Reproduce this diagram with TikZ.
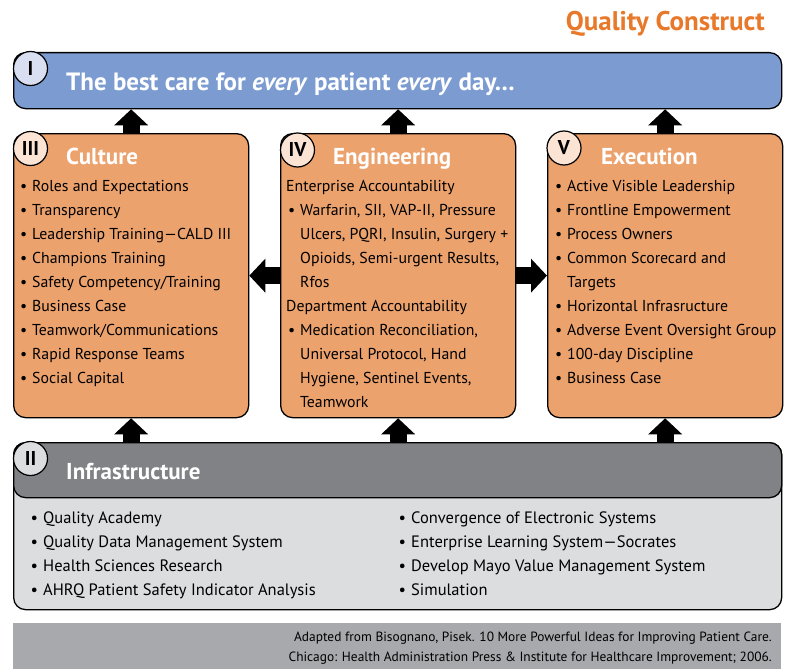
\documentclass[tikz,border=0pt]{standalone}
\usepackage{fontspec}
\setmainfont{PT Sans}
\usetikzlibrary{arrows.meta}
\definecolor{topblue}{HTML}{7B9BD1}
\definecolor{badgeblue}{HTML}{D9DEF0}
\definecolor{boxorange}{HTML}{ECA26D}
\definecolor{badgeorange}{HTML}{FBE4D4}
\definecolor{darkgray}{HTML}{808285}
\definecolor{lightgray}{HTML}{DCDDDF}
\definecolor{footgray}{HTML}{A7A9AC}
\definecolor{titleorange}{HTML}{E8782A}
\tikzset{
  panel/.style={draw=black, line width=1.3pt, rounded corners=12pt, inner sep=0pt, anchor=north west},
  badge/.style={circle, draw=black, line width=1.2pt, minimum size=34pt, inner sep=0pt, font=\fontsize{20}{20}\selectfont\bfseries},
  heading/.style={text=white, font=\fontsize{23}{23}\selectfont\bfseries, anchor=base west, inner sep=0pt},
  item/.style={font=\fontsize{15.8}{20}\selectfont, anchor=base west, inner sep=0pt},
  infitem/.style={font=\fontsize{16.5}{20}\selectfont, anchor=base west, inner sep=0pt},
  foottext/.style={anchor=base east, inner sep=0pt, font=\fontsize{13.4}{14}\selectfont},
  bigarrow/.style={line width=17pt, -{Triangle[width=33pt,length=16pt]}},
}
\newcommand{\bul}{\llap{\textbullet\hspace{5pt}}}
\begin{document}
\begin{tikzpicture}[x=1pt,y=-1pt]
\useasboundingbox (0,0) rectangle (792,669);

% title
\node[anchor=base east, inner sep=0pt, text=titleorange, font=\fontsize{27}{27}\selectfont\bfseries] (title) at (765,31) {Quality Construct};

% top box
\node[panel, fill=topblue, minimum width=768pt, minimum height=56pt] (top) at (13,52) {};
\node[badge, fill=badgeblue] (bI) at (30.5,68.5) {I};
\node[heading, font=\fontsize{25}{25}\selectfont\bfseries] (toptext) at (66,90) {The best care for \textit{every} patient \textit{every} day…};

% three boxes
\node[panel, fill=boxorange, minimum width=235pt, minimum height=284pt] (cult) at (13,133) {};
\node[panel, fill=boxorange, minimum width=235pt, minimum height=284pt] (eng) at (280,133) {};
\node[panel, fill=boxorange, minimum width=235pt, minimum height=284pt] (exec) at (547,133) {};

\node[badge, fill=badgeorange] (bIII) at (30.5,148.5) {III};
\node[badge, fill=badgeorange] (bIV) at (297.5,150) {IV};
\node[badge, fill=badgeorange] (bV) at (564,148) {V};

\node[heading] (hcult) at (66,164) {Culture};
\node[heading] (heng) at (333,164) {Engineering};
\node[heading] (hexec) at (601,164) {Execution};

\foreach \t [count=\i] in {Roles and Expectations, Transparency, Leadership Training—CALD III, Champions Training, Safety Competency/Training, Business Case, Teamwork/Communications, Rapid Response Teams, Social Capital}
  \node[item] (c\i) at (32,167+24*\i) {\bul\t};

\node[item] (e1) at (286,191) {Enterprise Accountability};
\node[item] (e2) at (300,215) {\bul Warfarin, SII, VAP-II, Pressure};
\node[item] (e3) at (300,239) {Ulcers, PQRI, Insulin, Surgery +};
\node[item] (e4) at (300,263) {Opioids, Semi-urgent Results,};
\node[item] (e5) at (300,287) {Rfos};
\node[item] (e6) at (286,311) {Department Accountability};
\node[item] (e7) at (300,335) {\bul Medication Reconciliation,};
\node[item] (e8) at (300,359) {Universal Protocol, Hand};
\node[item] (e9) at (300,383) {Hygiene, Sentinel Events,};
\node[item] (e10) at (300,407) {Teamwork};

\node[item] (x1) at (567,191) {\bul Active Visible Leadership};
\node[item] (x2) at (567,215) {\bul Frontline Empowerment};
\node[item] (x3) at (567,239) {\bul Process Owners};
\node[item] (x4) at (567,263) {\bul Common Scorecard and};
\node[item] (x5) at (567,287) {Targets};
\node[item] (x6) at (567,311) {\bul Horizontal Infrasructure};
\node[item] (x7) at (567,335) {\bul Adverse Event Oversight Group};
\node[item] (x8) at (567,359) {\bul 100-day Discipline};
\node[item] (x9) at (567,383) {\bul Business Case};

% infrastructure
\node[panel, fill=lightgray, minimum width=768pt, minimum height=167pt] (infra) at (13,442) {};
\node[panel, fill=darkgray, minimum width=768pt, minimum height=55pt] (infrahead) at (13,442) {};
\node[badge, fill=lightgray] (bII) at (30.5,458.5) {II};
\node[heading] (hinfra) at (66,479) {Infrastructure};

\foreach \t [count=\i] in {Quality Academy, Quality Data Management System, Health Sciences Research, AHRQ Patient Safety Indicator Analysis}
  \node[infitem] (l\i) at (43,499+24*\i) {\bul\t};
\foreach \t [count=\i] in {Convergence of Electronic Systems, Enterprise Learning System—Socrates, Develop Mayo Value Management System, Simulation}
  \node[infitem] (r\i) at (411,499+24*\i) {\bul\t};

% arrows
\draw[bigarrow] (cult.north) -- (top.south -| cult.north);
\draw[bigarrow] (eng.north) -- (top.south -| eng.north);
\draw[bigarrow] (exec.north) -- (top.south -| exec.north);
\draw[bigarrow] (infra.north -| cult.south) -- (cult.south);
\draw[bigarrow] (infra.north -| eng.south) -- (eng.south);
\draw[bigarrow] (infra.north -| exec.south) -- (exec.south);
\draw[bigarrow] (eng.west) -- (cult.east);
\draw[bigarrow] (eng.east) -- (exec.west);

% footer
\node[anchor=north west, fill=footgray, minimum width=768pt, minimum height=46pt, inner sep=0pt] (foot) at (13,623) {};
\node[foottext] (f1) at (772,641) {Adapted from Bisognano, Pisek. 10 More Powerful Ideas for Improving Patient Care.};
\node[foottext] (f2) at (772,661) {Chicago: Health Administration Press \& Institute for Healthcare Improvement; 2006.};
\end{tikzpicture}
\end{document}
